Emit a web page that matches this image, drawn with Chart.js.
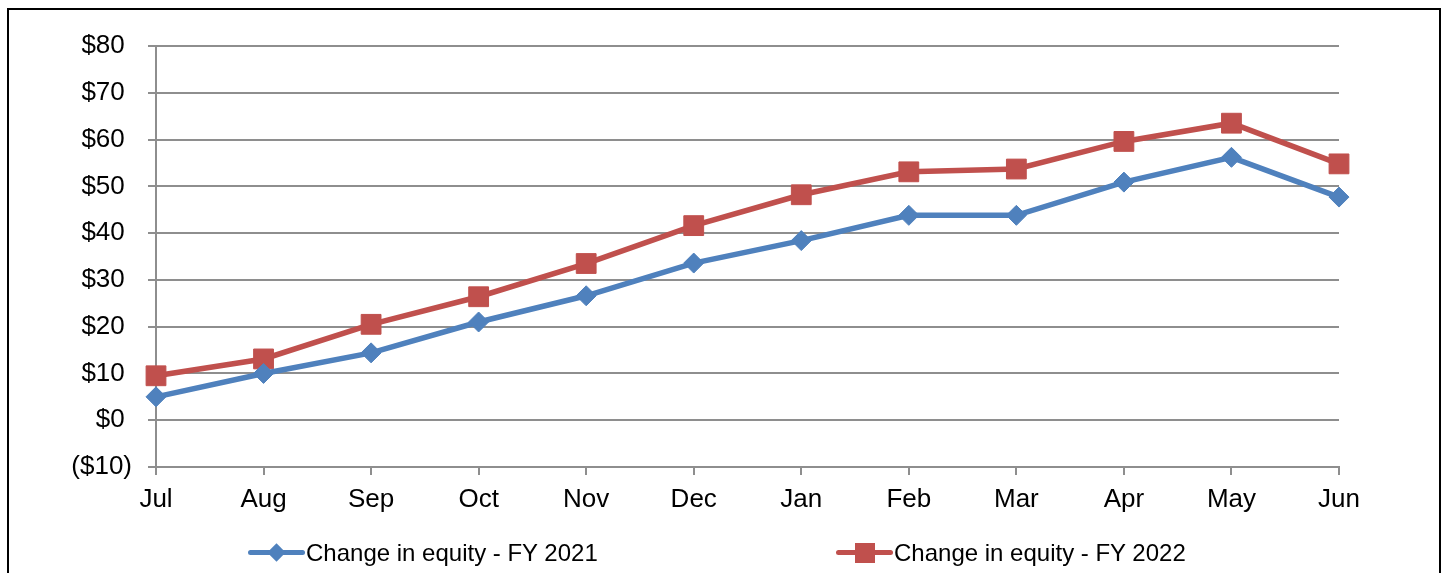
<!DOCTYPE html>
<html>
<head>
<meta charset="utf-8">
<script src="https://cdn.jsdelivr.net/npm/chart.js@4/dist/chart.umd.min.js"></script>
<style>
    html, body { margin: 0; padding: 0; background: #fff; }
    #wrap { position: relative; width: 1447px; height: 573px; overflow: hidden; }
    #frame { position: absolute; left: 7px; top: 8px; width: 1430px; height: 600px; border: 2px solid #000; }
    #myChart { position: absolute; left: 0; top: 0; }
    .legend-item { position: absolute; top: 539px; height: 28px; font: 24px "Liberation Sans", Arial, sans-serif; color: #000; line-height: 28px; white-space: nowrap; }
    .legend-line { position: absolute; left: 0; top: 11px; width: 57px; height: 5px; border-radius: 3px; }
    .legend-text { position: absolute; left: 58px; top: 0; }
    .mk-diamond { position: absolute; left: 22px; top: 7px; width: 13px; height: 13px; transform: rotate(45deg); }
    .mk-square { position: absolute; left: 19px; top: 4px; width: 20px; height: 20px; }
</style>
</head>
<body>
<div id="wrap">
    <div id="frame"></div>
    <canvas id="myChart" width="1447" height="573"></canvas>
    <div class="legend-item" style="left:248px;">
        <div class="legend-line" style="background:#4F81BD"></div>
        <div class="mk-diamond" style="background:#4F81BD"></div>
        <span class="legend-text" id="leg1"></span>
    </div>
    <div class="legend-item" style="left:836px;">
        <div class="legend-line" style="background:#C0504D"></div>
        <div class="mk-square" style="background:#C0504D"></div>
        <span class="legend-text" id="leg2"></span>
    </div>
</div>
<script>
// chart data
const months = ['Jul', 'Aug', 'Sep', 'Oct', 'Nov', 'Dec', 'Jan', 'Feb', 'Mar', 'Apr', 'May', 'Jun'];
const equity2021 = [5, 10, 14.4, 21, 26.6, 33.6, 38.4, 43.8, 43.8, 50.9, 56.2, 47.7];
const equity2022 = [9.5, 13.1, 20.5, 26.4, 33.5, 41.6, 48.2, 53.1, 53.7, 59.6, 63.5, 54.8];
const seriesNames = ['Change in equity - FY 2021', 'Change in equity - FY 2022'];
const yTickValues = [-10, 0, 10, 20, 30, 40, 50, 60, 70, 80];
const yTickLabels = ['($10)', '$0 ', '$10 ', '$20 ', '$30 ', '$40 ', '$50 ', '$60 ', '$70 ', '$80 '];

const fontFamily = '"Liberation Sans", Arial, sans-serif';
const gridColor = '#8e8e8e';

document.getElementById('leg1').textContent = seriesNames[0];
document.getElementById('leg2').textContent = seriesNames[1];

const ctx = document.getElementById('myChart').getContext('2d');
const myChart = new Chart(ctx, {
    type: 'line',
    data: {
        labels: months,
        datasets: [{
            label: seriesNames[0],
            data: equity2021,
            borderColor: '#4F81BD',
            backgroundColor: '#4F81BD',
            borderWidth: 5.5,
            pointStyle: 'rectRot',
            pointRadius: 10,
            pointBorderWidth: 1,
            tension: 0
        }, {
            label: seriesNames[1],
            data: equity2022,
            borderColor: '#C0504D',
            backgroundColor: '#C0504D',
            borderWidth: 5.5,
            pointStyle: 'rect',
            pointRadius: 14,
            pointBorderWidth: 1,
            tension: 0
        }]
    },
    options: {
        responsive: false,
        animation: false,
        events: [],
        layout: {
            padding: { left: 0, top: 46, right: 108, bottom: 0 }
        },
        plugins: {
            legend: { display: false },
            tooltip: { enabled: false }
        },
        scales: {
            x: {
                offset: false,
                afterFit: (scale) => { scale.height = 106; },
                grid: {
                    drawOnChartArea: false,
                    drawTicks: true,
                    tickLength: 8,
                    color: gridColor,
                    lineWidth: 2
                },
                border: { display: true, color: gridColor, width: 2 },
                ticks: {
                    color: '#000',
                    padding: 9,
                    maxRotation: 0,
                    autoSkip: false,
                    font: { family: fontFamily, size: 26 }
                }
            },
            y: {
                min: -10,
                max: 80,
                afterFit: (scale) => { scale.width = 156; },
                afterBuildTicks: (scale) => {
                    scale.ticks = yTickValues.map(v => ({ value: v }));
                },
                grid: {
                    drawTicks: true,
                    tickLength: 8,
                    color: gridColor,
                    lineWidth: 2
                },
                border: { display: true, color: gridColor, width: 2 },
                ticks: {
                    color: '#000',
                    padding: 16,
                    font: { family: fontFamily, size: 26 },
                    callback: (value) => yTickLabels[yTickValues.indexOf(value)]
                }
            }
        }
    }
});
</script>
</body>
</html>
